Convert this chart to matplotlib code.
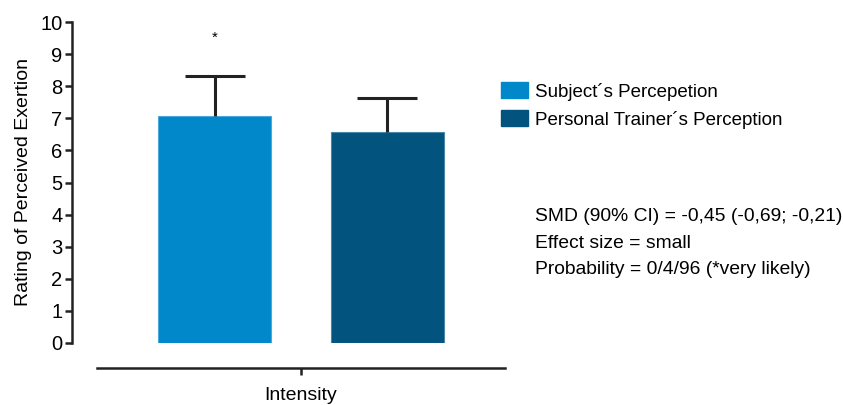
import matplotlib
matplotlib.use("Agg")
import matplotlib.pyplot as plt
from matplotlib.patches import Patch
import numpy as np

plt.rcParams['font.family'] = ['Liberation Sans', 'DejaVu Sans']

grupos = ["Subject´s Percepetion", "Personal Trainer´s Perception"]
medias = [7.08, 6.58]
erros = [1.25, 1.04]
cores = ["#0088cb", "#02547e"]
bordas = ["#4aa8dc", "#4a86a8"]
posicoes = [-0.5, 0.5]
categoria = "Intensity"
notas = ["SMD (90% CI) = -0,45 (-0,69; -0,21)",
         "Effect size = small",
         "Probability = 0/4/96 (*very likely)"]

fs = 13.5

fig = plt.figure(figsize=(8.43, 4.05), dpi=100)
ax = fig.add_axes([72 / 843, 62 / 405, 433 / 843, 321 / 405])

ax.bar(posicoes, medias, width=0.655, color=cores, edgecolor=bordas, linewidth=0.8)
eb = ax.errorbar(posicoes, medias, yerr=[[0, 0], erros], fmt="none", ecolor="#222222",
                 elinewidth=2.2, capsize=21.5, capthick=2.2)
# so a tampa de cima
for cap in eb[1]:
    if np.allclose(cap.get_ydata(), medias):
        cap.set_visible(False)
ax.text(posicoes[0], 9.5, "*", ha="center", va="center", fontsize=11)

ax.set_xlim(-1.328, 1.183)
ax.set_ylim(0, 10)
ax.set_yticks(range(0, 11))
ax.set_xticks([0])
ax.set_xticklabels([categoria])
ax.set_ylabel("Rating of Perceived Exertion", fontsize=fs + 0.5, labelpad=6)

for s in ["top", "right"]:
    ax.spines[s].set_visible(False)
ax.spines["left"].set_bounds(0, 10)
ax.spines["bottom"].set_position(("outward", 18))
ax.spines["bottom"].set_bounds(-1.183, 1.183)
for s in ["left", "bottom"]:
    ax.spines[s].set_linewidth(1.8)
    ax.spines[s].set_color("#222222")
ax.tick_params(axis="both", labelsize=fs + 1, width=1.8, length=5, color="#222222", pad=2)
ax.tick_params(axis="x", labelsize=fs + 0.5, pad=9)

handles = [Patch(facecolor=c, edgecolor=c) for c in cores]
fig.legend(handles, grupos, loc="upper left", bbox_to_anchor=(501 / 843, 1 - 82 / 405),
           frameon=False, fontsize=fs, handlelength=1.44, handleheight=0.96,
           handletextpad=0.37, labelspacing=0.5, borderaxespad=0, borderpad=0)

for i, nota in enumerate(notas):
    fig.text(535 / 843, 1 - (217 + 26.5 * i) / 405, nota, fontsize=fs + 0.4, va="center")

fig.savefig("out.png", dpi=100)
